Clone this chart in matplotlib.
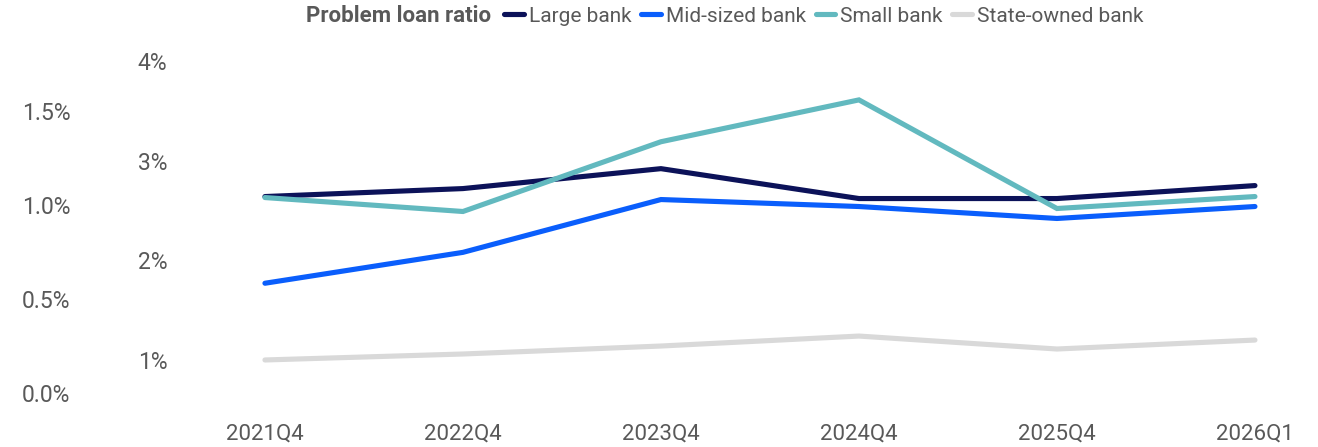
import matplotlib.pyplot as plt
from matplotlib.ticker import FuncFormatter

plt.rcParams['font.family'] = ['Roboto', 'DejaVu Sans']

quarters = ['2021Q4', '2022Q4', '2023Q4', '2024Q4', '2025Q4', '2026Q1']
large_bank = [2.64, 2.72, 2.92, 2.62, 2.62, 2.75]
mid_bank = [1.77, 2.08, 2.61, 2.54, 2.42, 2.54]
small_bank = [2.63, 2.49, 3.19, 3.61, 2.52, 2.64]
state_bank = [1.00, 1.06, 1.14, 1.24, 1.11, 1.20]

inner_ticks = [1, 2, 3, 4]
outer_ticks = [0.0, 0.5, 1.0, 1.5]

text_color = '#595959'

fig = plt.figure(figsize=(13.18, 4.47), dpi=100)
W, H = 1318, 447
left, right, top, bottom = 180, 1290, 40, 410
ax = fig.add_axes([left / W, 1 - bottom / H, (right - left) / W, (bottom - top) / H])

x = list(range(len(quarters)))
series = [
    ('Large bank', large_bank, '#0c1259'),
    ('Mid-sized bank', mid_bank, '#0a5efc'),
    ('Small bank', small_bank, '#62b9bf'),
    ('State-owned bank', state_bank, '#d9d9d9'),
]
handles = []
for name, vals, col in series:
    h, = ax.plot(x, vals, color=col, lw=3.7, solid_capstyle='round',
                 solid_joinstyle='miter', label=name)
    handles.append(h)

# draw order: state-owned at the back
handles[3].set_zorder(1)

ax.set_xlim(-0.429, 5.177)
ax.set_ylim(0.498, 4.211)
ax.set_xticks(x)
ax.set_xticklabels(quarters)
ax.set_yticks(inner_ticks)
ax.yaxis.set_major_formatter(FuncFormatter(lambda v, p: f'{v:.0f}%'))
ax.tick_params(axis='y', length=0, pad=9, labelsize=16.5, labelcolor=text_color)
ax.tick_params(axis='x', length=0, pad=10, labelsize=16, labelcolor=text_color)
for s in ax.spines.values():
    s.set_visible(False)

# second scale on the left, further out
ax2 = ax.twinx()
ax2.set_ylim(-0.090, 1.878)
ax2.set_yticks(outer_ticks)
ax2.yaxis.set_major_formatter(FuncFormatter(lambda v, p: f'{v:.1f}%'))
ax2.yaxis.set_ticks_position('left')
ax2.yaxis.set_label_position('left')
ax2.tick_params(axis='y', length=0, pad=79, labelsize=16.5, labelcolor=text_color)
for s in ax2.spines.values():
    s.set_visible(False)

fig.text(306 / W, 1 - 16 / H, 'Problem loan ratio', fontsize=16, fontweight='bold',
         color=text_color, va='center', ha='left')
leg = fig.legend(handles=handles, ncol=4, loc='center left',
                 bbox_to_anchor=(504 / W, 1 - 16 / H), frameon=False,
                 fontsize=15, handlelength=0.95, handletextpad=0.25,
                 columnspacing=0.45, borderaxespad=0, borderpad=0)
for t in leg.get_texts():
    t.set_color(text_color)

fig.savefig('out.png', dpi=100)
